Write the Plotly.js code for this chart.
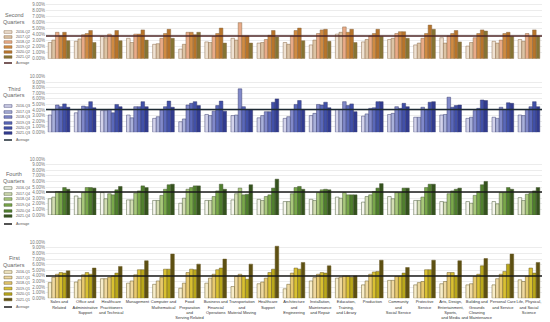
<!DOCTYPE html>
<html><head><meta charset="utf-8">
<script src="https://cdn.plot.ly/plotly-3.0.1.min.js"></script>
<style>html,body{margin:0;padding:0;background:#fff}#chart{width:550px;height:322px}</style>
</head><body><div id="chart"></div>
<script>
const categories = ["Sales and<br>Related","Office and<br>Administrative<br>Support","Healthcare<br>Practitioners<br>and Technical","Management","Computer and<br>Mathematical","Food<br>Preparation<br>and<br>Serving Related","Business and<br>Financial<br>Operations","Transportation<br>and<br>Material Moving","Healthcare<br>Support","Architecture<br>and<br>Engineering","Installation,<br>Maintenance<br>and Repair","Education,<br>Training,<br>and Library","Production","Community<br>and<br>Social Service","Protective<br>Service","Arts, Design,<br>Entertainment,<br>Sports,<br>and Media","Building and<br>Grounds<br>Cleaning<br>and Maintenance","Personal Care<br>and Service","Life, Physical,<br>and Social<br>Science"];

// Second quarters
const q2Labels = ["2016-Q2","2017-Q2","2018-Q2","2019-Q2","2020-Q2","2021-Q2"];
const q2_s1 = [2.7,2.9,3.7,3.4,2.4,1.6,2.8,3.4,2.6,2.7,2.3,4.1,2.8,3.2,2.3,3.5,2.1,2.9,3.2];
const q2_s2 = [3.1,3.3,3.5,2.7,2.5,2.4,2.7,3.1,2.7,2.4,3.1,4.4,3.2,3.4,2.6,2.6,2.7,2.6,2.9];
const q2_s3 = [4.4,4.0,4.1,4.1,3.4,4.4,3.7,6.0,3.2,3.8,4.2,5.3,3.8,4.2,3.4,3.8,3.5,3.1,4.2];
const q2_s4 = [3.8,4.2,3.8,4.1,4.2,4.4,4.2,3.8,3.9,4.7,4.8,4.4,4.2,4.5,4.2,4.2,4.2,4.2,3.7];
const q2_s5 = [4.4,4.7,4.7,4.8,4.9,4.0,5.1,3.8,4.7,5.1,4.9,4.9,4.9,4.5,5.6,4.7,4.8,4.4,4.8];
const q2_s6 = [3.0,2.7,3.0,3.1,3.4,4.4,2.6,2.6,3.6,3.0,2.9,2.7,3.7,3.4,4.9,2.8,4.6,3.7,3.8];
const q2Avg = 3.8;

// Third quarters
const q3Labels = ["2016-Q3","2017-Q3","2018-Q3","2019-Q3","2020-Q3","2021-Q3"];
const q3_s1 = [3.1,3.5,3.9,3.1,2.5,1.9,3.2,3.0,2.6,2.5,3.0,4.1,2.9,3.2,2.7,3.1,2.5,2.7,3.1];
const q3_s2 = [4.0,4.1,3.9,2.6,2.8,2.4,3.0,3.1,3.0,2.8,3.4,4.1,3.3,3.4,2.7,3.2,2.7,2.5,3.0];
const q3_s3 = [4.9,4.7,4.1,4.6,4.0,4.9,3.8,7.8,3.7,4.1,5.0,5.5,4.3,4.6,4.5,6.3,3.9,4.5,4.1];
const q3_s4 = [4.6,4.6,3.5,4.6,4.6,5.2,4.8,4.6,3.7,5.0,4.9,4.8,4.4,4.3,4.1,4.5,4.3,4.1,4.6];
const q3_s5 = [5.1,5.5,5.0,5.5,5.6,5.5,5.6,4.1,5.4,5.7,5.4,5.1,5.5,5.2,5.4,4.8,5.8,5.3,5.5];
const q3_s6 = [4.5,4.4,4.6,4.6,4.5,4.8,3.8,4.1,6.0,4.1,4.4,3.7,5.5,4.6,5.5,4.9,5.7,5.2,4.6];
const q3Avg = 4.1;

// Fourth quarters
const q4Labels = ["2016-Q4","2017-Q4","2018-Q4","2019-Q4","2020-Q4","2021-Q4"];
const q4_s1 = [2.9,3.4,4.0,2.7,2.6,2.1,2.6,2.7,2.8,2.4,2.8,3.2,2.3,3.3,2.6,2.4,2.4,2.4,3.1];
const q4_s2 = [3.2,3.0,2.9,2.7,2.6,3.0,2.6,3.8,2.6,2.4,2.6,3.0,3.3,2.9,2.6,2.3,2.1,2.0,2.6];
const q4_s3 = [4.2,4.0,3.8,3.9,3.5,4.6,3.3,4.8,3.3,3.8,4.0,4.0,3.6,4.0,3.2,3.8,3.5,4.0,3.7];
const q4_s4 = [4.2,4.9,3.6,4.3,4.6,4.9,4.3,3.6,3.6,4.9,4.5,3.6,4.2,4.0,4.9,4.3,4.2,4.0,3.9];
const q4_s5 = [4.9,4.9,4.5,5.2,5.4,5.2,5.5,3.7,4.8,5.1,4.6,3.6,4.8,4.8,5.5,4.6,5.4,4.9,4.3];
const q4_s6 = [4.6,4.8,5.1,4.9,5.5,5.2,4.6,5.4,6.4,4.6,4.5,3.6,5.6,4.8,5.5,4.8,6.0,4.6,4.9];
const q4Avg = 4.1;

// First quarters
const q1Labels = ["2016-Q1","2017-Q1","2018-Q1","2019-Q1","2020-Q1","2021-Q1"];
const q1_s1 = [2.8,2.9,3.5,2.7,2.5,1.8,2.7,2.1,2.6,1.7,3.1,3.6,2.4,3.2,2.4,2.6,2.4,2.4,3.3];
const q1_s2 = [3.75,3.3,3.5,3.1,3.1,2.7,3.6,3.9,2.9,2.5,3.7,3.75,3.1,3.2,2.8,3.0,2.6,3.5,3.0];
const q1_s3 = [4.3,4.2,3.75,4.2,3.75,4.6,4.3,4.3,3.6,4.5,4.3,4.0,4.3,3.9,3.0,4.6,3.9,4.3,3.9];
const q1_s4 = [4.6,4.6,4.0,5.1,5.2,5.2,5.1,4.0,4.6,5.4,4.6,4.0,4.7,3.9,5.1,4.6,4.3,4.8,5.4];
const q1_s5 = [4.5,4.3,4.5,5.1,5.2,5.1,5.4,3.4,5.2,5.2,4.5,3.75,4.8,4.5,5.1,4.0,5.8,6.1,4.5];
const q1_s6 = [4.9,5.4,5.7,6.7,7.9,6.1,7.0,6.1,9.3,6.4,5.8,4.0,6.8,5.5,6.8,6.7,7.1,7.9,6.4];
const q1Avg = 4.0;

const W = 550, H = 322, ML = 46, MR = 8;
const PW = W - ML - MR;
const px = v => (v - ML) / PW;
const py = v => 1 - v / H;

const panels = [
  {title:["Second","Quarters"], labels:q2Labels, series:[q2_s1,q2_s2,q2_s3,q2_s4,q2_s5,q2_s6], avg:q2Avg,
   colors:["#efe2d3","#dcc4a6","#e9ab88","#d08b42","#b7742a","#857433"], edge:"#8a6a48", avgColor:"#4d2424",
   dom:[58.7,0], range:[0,58.7/6.0], titleY:[15,21.5], itemY:[32,37,42,47,52,57,63]},
  {title:["Third","Quarters"], labels:q3Labels, series:[q3_s1,q3_s2,q3_s3,q3_s4,q3_s5,q3_s6], avg:q3Avg,
   colors:["#d3d3ea","#aab1d9","#8189c9","#5a68b9","#4150a8","#313b8f"], edge:"#3a3f70", avgColor:"#1d2a33",
   dom:[132.3,76.6], range:[0,10], titleY:[89,95.5], itemY:[106,112,117,123,128,133,140]},
  {title:["Fourth","Quarters"], labels:q4Labels, series:[q4_s1,q4_s2,q4_s3,q4_s4,q4_s5,q4_s6], avg:q4Avg,
   colors:["#f6f6ee","#d3ddb4","#a9c87c","#79a84a","#4f7f2d","#34521d"], edge:"#4a5a38", avgColor:"#1a1a1a",
   dom:[215,159], range:[0,10], titleY:[174,181], itemY:[188,194,199,205,211,216,224]},
  {title:["First","Quarters"], labels:q1Labels, series:[q1_s1,q1_s2,q1_s3,q1_s4,q1_s5,q1_s6], avg:q1Avg,
   colors:["#f7edcb","#efd9a2","#e7c971","#d9c132","#b9a81a","#5d5012"], edge:"#6a5a28", avgColor:"#1a1a1a",
   dom:[298.3,242.3], range:[0,10], titleY:[258,264.5], itemY:[272,277.5,283,288.5,294,299.5,307]}
];

const idx = categories.map((c,i)=>i);
const traces = [];
const layout = {
  width:W, height:H, margin:{l:ML, r:MR, t:0, b:0},
  paper_bgcolor:"#fff", plot_bgcolor:"#fff",
  barmode:"group", bargap:0.17, bargroupgap:0,
  showlegend:false, shapes:[], annotations:[],
  font:{family:"Liberation Sans, Arial, sans-serif"}
};

panels.forEach((p, k) => {
  const n = k + 1;
  const xa = n === 1 ? "x" : "x" + n;
  const ya = n === 1 ? "y" : "y" + n;
  p.series.forEach((s, j) => {
    traces.push({type:"bar", x:idx, y:s, name:p.labels[j], xaxis:xa, yaxis:ya,
      marker:{color:p.colors[j], line:{color:p.edge, width:0.5}}, hoverinfo:"y"});
  });
  traces.push({type:"scatter", mode:"lines", x:[-0.5, categories.length-0.5], y:[p.avg, p.avg],
    xaxis:xa, yaxis:ya, name:"Average", line:{color:p.avgColor, width:1.5}, hoverinfo:"none"});
  layout["xaxis" + (n===1?"":n)] = {
    domain:[0,1], anchor:ya, range:[-0.5, categories.length-0.5],
    tickvals:idx, ticktext:categories, showticklabels:n===4, ticks:"",
    showgrid:false, zeroline:false, showline:false,
    tickfont:{size:4, color:"#333"}, tickangle:0
  };
  layout["yaxis" + (n===1?"":n)] = {
    domain:[py(p.dom[0]), py(p.dom[1])], anchor:xa, range:p.range, dtick:1,
    tickformat:".2f", ticksuffix:"%", showgrid:true, gridcolor:"#e4e4e4", gridwidth:0.7,
    zeroline:false, showline:false, ticks:"", tickfont:{size:4.5, color:"#777"}
  };
  p.title.forEach((t, i) => {
    layout.annotations.push({xref:"paper", yref:"paper", x:px(14), y:py(p.titleY[i]), text:t,
      showarrow:false, xanchor:"center", yanchor:"middle", font:{size:5.5, color:"#666"}});
  });
  const allLabels = p.labels.concat(["Average"]);
  allLabels.forEach((lab, i) => {
    const yy = p.itemY[i];
    if (i < 6) {
      layout.shapes.push({type:"rect", xref:"paper", yref:"paper", x0:px(4), x1:px(12),
        y0:py(yy+1.3), y1:py(yy-1.3), fillcolor:p.colors[i], line:{color:p.edge, width:0.5}});
    } else {
      layout.shapes.push({type:"line", xref:"paper", yref:"paper", x0:px(4), x1:px(12),
        y0:py(yy), y1:py(yy), line:{color:p.avgColor, width:1.5}});
    }
    layout.annotations.push({xref:"paper", yref:"paper", x:px(13.5), y:py(yy), text:lab,
      showarrow:false, xanchor:"left", yanchor:"middle", font:{size:3.6, color:"#555"}});
  });
});

Plotly.newPlot("chart", traces, layout, {displayModeBar:false, staticPlot:true});
</script></body></html>
